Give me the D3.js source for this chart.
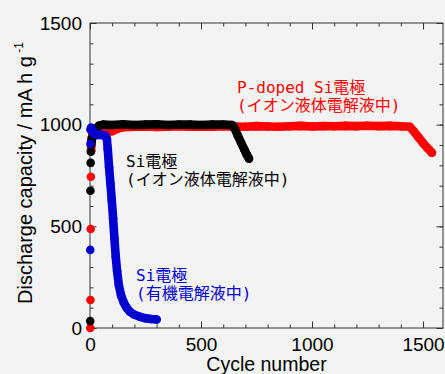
<!DOCTYPE html>
<html lang="ja">
<head>
<meta charset="UTF-8">
<title>Discharge capacity vs cycle number</title>
<script src="https://cdn.jsdelivr.net/npm/d3@7/dist/d3.min.js"></script>
<style>
    html, body { margin: 0; padding: 0; background: #f3f3f3; }
    svg { display: block; }
    .tick text { font-family: "Liberation Sans", Arial, sans-serif; font-size: 19px; fill: #000; }
    .axis path, .axis line { stroke: #333; }
    .note { font-family: "DejaVu Sans Mono", "Noto Sans CJK JP", monospace; font-size: 16px; }
</style>
</head>
<body>
<svg id="chart" width="445" height="374"></svg>
<script>
// axis ticks
const majorTicks = [0, 500, 1000, 1500];
const minorTicks = d3.range(0, 1600, 100);

// P-doped Si electrode, ionic liquid electrolyte (red)
const redCycle = [1, 2, 3, 4, 5, 6, 8, 12, 20, 30, 45, 60, 80, 100, 125, 150, 200, 250, 300, 350, 400, 450, 500,
    550, 600, 650, 700, 750, 800, 850, 900, 950, 1000, 1050, 1100, 1150, 1200, 1250, 1300, 1350, 1400, 1440,
    1460, 1480, 1500, 1520, 1540];
const redCap = [0, 138, 487, 744, 872, 912, 935, 950, 960, 963, 965, 966, 965, 968, 980, 988, 990, 991, 989, 990, 992, 990, 991,
    990, 992, 991, 990, 993, 991, 990, 992, 994, 991, 993, 992, 994, 993, 995, 993, 994, 992, 990,
    965, 937, 910, 885, 862];

// Si electrode, ionic liquid electrolyte (black)
const blackCycle = [1, 2, 3, 4, 5, 7, 10, 15, 25, 40, 60, 100, 150, 200, 250, 300, 350, 400, 450, 500, 550, 600,
    640, 650, 665, 680, 695, 705, 716];
const blackCap = [34, 675, 812, 867, 900, 920, 935, 950, 975, 995, 1000, 998, 1002, 998, 1000, 1002, 998, 1001, 1000, 998, 1000, 1000,
    998, 985, 948, 912, 878, 855, 833];

// Si electrode, organic electrolyte (blue)
const blueCycle = [1, 2, 3, 5, 10, 20, 30, 40, 50, 60, 70, 76, 80, 86, 92, 98, 104, 110, 116, 122, 130, 140, 152,
    165, 180, 200, 225, 250, 275, 300];
const blueCap = [384, 906, 975, 985, 975, 955, 950, 950, 950, 948, 945, 930, 880, 790, 710, 630, 540, 440, 350, 280, 210, 160, 125,
    100, 80, 65, 55, 48, 44, 42];

const series = [
    { name: 'P-doped Si', color: '#ff0000', cycle: redCycle, cap: redCap, denseFrom: 5 },
    { name: 'Si IL', color: '#000000', cycle: blackCycle, cap: blackCap, denseFrom: 5 },
    { name: 'Si org', color: '#0000d0', cycle: blueCycle, cap: blueCap, denseFrom: 3 }
];

const margin = { left: 90, right: 2, top: 23, bottom: 46 };
const width = 445, height = 374;

const svg = d3.select('#chart');

const x = d3.scaleLinear().domain([0, 1590]).range([margin.left, width - margin.right]);
const y = d3.scaleLinear().domain([0, 1500]).range([height - margin.bottom, margin.top]);

const x0 = x.range()[0], x1 = x.range()[1];
const y0 = y.range()[0], y1 = y.range()[1];

// frame
svg.append('rect')
    .attr('x', x0).attr('y', y1)
    .attr('width', x1 - x0).attr('height', y0 - y1)
    .attr('fill', 'none').attr('stroke', '#333').attr('stroke-width', 1);

function addAxis(axisFn, scale, values, size, translate, withLabels) {
    const a = axisFn(scale).tickValues(values).tickSizeInner(-size).tickSizeOuter(0).tickPadding(6);
    a.tickFormat(withLabels ? d3.format('d') : '');
    const g = svg.append('g').attr('class', 'axis').attr('transform', translate).call(a);
    g.select('.domain').remove();
    return g;
}

addAxis(d3.axisBottom, x, minorTicks, 3.5, `translate(0,${y0})`, false);
addAxis(d3.axisTop, x, minorTicks, 3.5, `translate(0,${y1})`, false);
addAxis(d3.axisLeft, y, minorTicks, 3.5, `translate(${x0},0)`, false);
addAxis(d3.axisRight, y, minorTicks, 3.5, `translate(${x1},0)`, false);

addAxis(d3.axisBottom, x, majorTicks, 6.5, `translate(0,${y0})`, true)
    .selectAll('text').attr('dy', '0.9em');
addAxis(d3.axisTop, x, majorTicks, 6.5, `translate(0,${y1})`, false);
addAxis(d3.axisLeft, y, majorTicks, 6.5, `translate(${x0},0)`, true)
    .selectAll('text').attr('x', -8);
addAxis(d3.axisRight, y, majorTicks, 6.5, `translate(${x1},0)`, false);

// data
const line = d3.line().x(d => x(d.c)).y(d => y(d.v));

series.forEach(s => {
    const pts = s.cycle.map((c, i) => ({ c: c, v: s.cap[i] }));
    const dense = pts.filter(d => d.c >= s.denseFrom);
    const g = svg.append('g');
    g.append('path')
        .datum(dense)
        .attr('d', line)
        .attr('fill', 'none')
        .attr('stroke', s.color)
        .attr('stroke-width', 8.6)
        .attr('stroke-linejoin', 'round')
        .attr('stroke-linecap', 'round');
    g.selectAll('circle')
        .data(pts)
        .join('circle')
        .attr('cx', d => x(d.c))
        .attr('cy', d => y(d.v))
        .attr('r', 4.3)
        .attr('fill', s.color);
});

// axis titles
svg.append('text')
    .attr('x', (x0 + x1) / 2)
    .attr('y', 371)
    .attr('text-anchor', 'middle')
    .style('font-family', '"Liberation Sans", Arial, sans-serif')
    .style('font-size', '19.5px')
    .text('Cycle number');

const yl = svg.append('text')
    .attr('transform', 'translate(32,304) rotate(-90)')
    .attr('text-anchor', 'start')
    .style('font-family', '"Liberation Sans", Arial, sans-serif')
    .style('font-size', '20px')
    .text('Discharge capacity / mA h g');
yl.append('tspan')
    .attr('dy', -9)
    .style('font-size', '12px')
    .text(' -1');

// annotations
const notes = [
    { lines: ['P-doped Si電極', '(イオン液体電解液中)'], x: 237, y: 93, color: '#ff0000' },
    { lines: ['Si電極', '(イオン液体電解液中)'], x: 126, y: 167, color: '#000000' },
    { lines: ['Si電極', '(有機電解液中)'], x: 136, y: 281, color: '#0000d0' }
];

notes.forEach(n => {
    const t = svg.append('text')
        .attr('class', 'note')
        .attr('fill', n.color);
    n.lines.forEach((l, i) => {
        t.append('tspan')
            .attr('x', n.x)
            .attr('y', n.y + i * 18)
            .text(l);
    });
});
</script>
</body>
</html>
